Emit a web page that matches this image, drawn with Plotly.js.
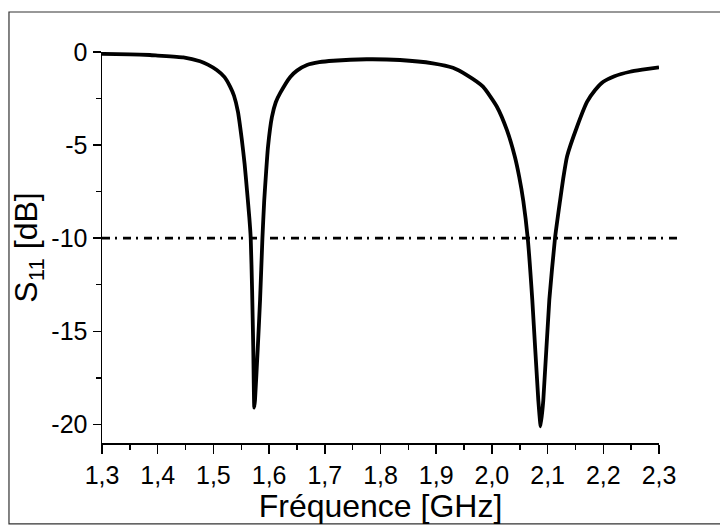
<!DOCTYPE html>
<html>
<head>
<meta charset="utf-8">
<script src="https://cdn.plot.ly/plotly-3.0.1.min.js"></script>
<style>
  html, body { margin: 0; padding: 0; background: #fff; }
  #chart { width: 720px; height: 526px; }
</style>
</head>
<body>
<div id="chart"></div>
<script>
// Frequency (GHz) and S11 (dB)
const freq = [1.30, 1.35, 1.386, 1.40, 1.446, 1.476, 1.49, 1.506, 1.52, 1.53, 1.537, 1.544, 1.551, 1.556, 1.5605, 1.5645, 1.567, 1.5695, 1.5715, 1.5734,
              1.5747, 1.5795, 1.5838, 1.5880, 1.5912, 1.5945, 1.598, 1.605, 1.612, 1.62, 1.638, 1.65, 1.668, 1.69, 1.715, 1.775, 1.835, 1.894, 1.93, 1.955, 1.984,
              2.009, 2.027, 2.041, 2.049, 2.0564, 2.0643, 2.0725, 2.0833, 2.0876, 2.0923, 2.1031, 2.1133, 2.1223, 2.128, 2.135, 2.153, 2.171, 2.185, 2.2, 2.22, 2.248, 2.27, 2.3];
const s11  = [-0.10, -0.13, -0.16, -0.19, -0.29, -0.50, -0.68, -0.97, -1.35, -1.86, -2.35, -3.2, -4.7, -6.0, -7.5, -8.9, -10.0, -12.8, -15.8, -19.1,
              -18.7, -16.0, -13.3, -10.0, -8.0, -6.5, -5.1, -3.5, -2.7, -2.2, -1.34, -1.0, -0.70, -0.55, -0.47, -0.39, -0.43, -0.61, -0.85, -1.24, -1.86,
              -2.94, -4.2, -5.6, -6.7, -8.0, -10.0, -13.3, -18.7, -20.1, -18.7, -13.3, -10.0, -8.0, -6.8, -5.6, -4.0, -2.67, -2.05, -1.6, -1.3, -1.06, -0.95, -0.82];
const threshold = -10;
const xTickVals = [1.3, 1.4, 1.5, 1.6, 1.7, 1.8, 1.9, 2.0, 2.1, 2.2, 2.3];
const xTickText = ['1,3', '1,4', '1,5', '1,6', '1,7', '1,8', '1,9', '2,0', '2,1', '2,2', '2,3'];
const yTickVals = [-20, -15, -10, -5, 0];
const yTickText = ['-20', '-15', '-10', '-5', '0'];

const xRange = [1.3, 2.3];
const yRange = [-21, 0];

const font = 'Liberation Sans, Arial, sans-serif';

const trace = {
  x: freq, y: s11, type: 'scatter', mode: 'lines',
  line: { color: '#000', width: 3.8, shape: 'spline', smoothing: 0.5 },
  hoverinfo: 'skip', showlegend: false
};

const yFrac = (threshold - yRange[0]) / (yRange[1] - yRange[0]);

const layout = {
  width: 720, height: 526,
  margin: { l: 102, r: 61, t: 52, b: 83 },
  paper_bgcolor: '#fff', plot_bgcolor: '#fff',
  font: { family: font, color: '#000' },
  showlegend: false,
  xaxis: {
    range: xRange, showgrid: false, zeroline: false,
    showline: true, linecolor: '#000', linewidth: 1.5,
    ticks: 'outside', ticklen: 9, tickwidth: 1.5, tickcolor: '#000',
    tickmode: 'array', tickvals: xTickVals, ticktext: xTickText,
    tickfont: { family: font, size: 25, color: '#000' },
    minor: { tickmode: 'linear', tick0: 1.3, dtick: 0.05, ticks: 'outside', ticklen: 5, tickwidth: 1.5, tickcolor: '#000', showgrid: false },
    title: { text: 'Fréquence [GHz]', font: { family: font, size: 32, color: '#000' }, standoff: 2 },
    fixedrange: true
  },
  yaxis: {
    range: yRange, showgrid: false, zeroline: false,
    showline: true, linecolor: '#000', linewidth: 1.5,
    ticks: 'outside', ticklen: 8, tickwidth: 1.5, tickcolor: '#000',
    tickmode: 'array', tickvals: yTickVals, ticktext: yTickText,
    tickfont: { family: font, size: 25, color: '#000' },
    minor: { tickmode: 'linear', tick0: 0, dtick: 2.5, ticks: 'outside', ticklen: 5, tickwidth: 1.5, tickcolor: '#000', showgrid: false },
    title: { text: 'S<sub>11</sub> [dB]', font: { family: font, size: 32, color: '#000' }, standoff: 4 },
    fixedrange: true
  },
  shapes: [
    { type: 'line', xref: 'paper', yref: 'paper', x0: 0, x1: 1.038, y0: yFrac, y1: yFrac,
      line: { color: '#000', width: 2.8, dash: '8px,5px,2px,6px' } },
    { type: 'rect', xref: 'paper', yref: 'paper', x0: -0.167, x1: 1.115, y0: -0.207, y1: 1.1023,
      line: { color: '#333', width: 1.2 }, fillcolor: 'rgba(0,0,0,0)', layer: 'below' }
  ]
};

Plotly.newPlot('chart', [trace], layout, { displayModeBar: false, staticPlot: true });
</script>
</body>
</html>
